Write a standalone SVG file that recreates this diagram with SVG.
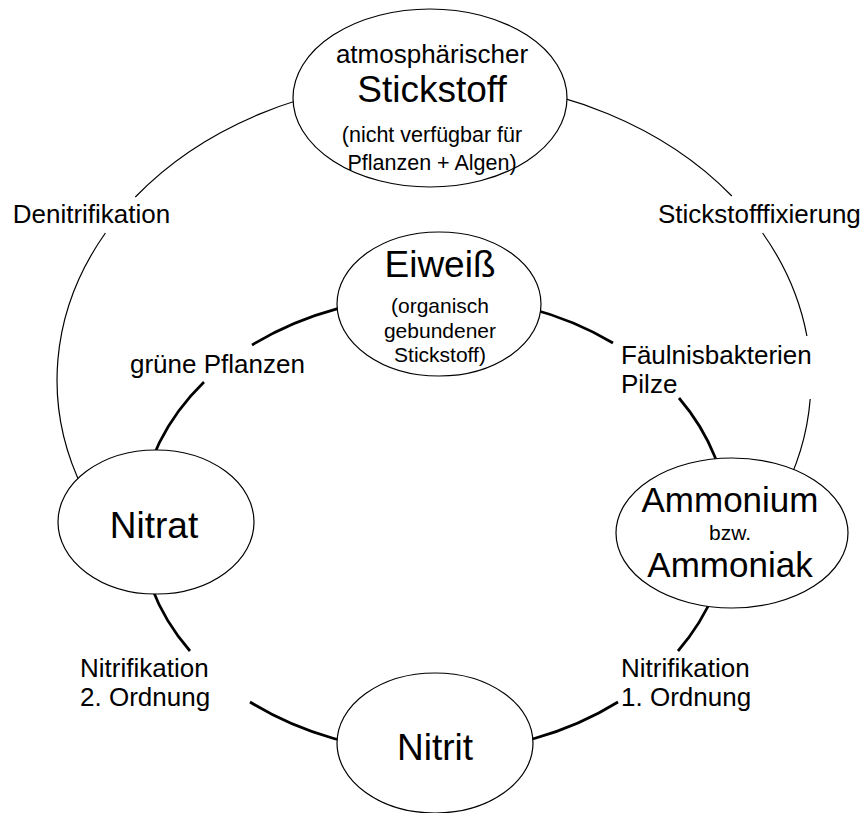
<svg xmlns="http://www.w3.org/2000/svg" width="868" height="813" viewBox="0 0 868 813">
<style>
.bg{fill:#fff}
.node{fill:#fff;stroke:#000;stroke-width:1.2}
.outer{fill:none;stroke:#000;stroke-width:1.2}
.inner{fill:none;stroke:#000;stroke-width:2.7}
text{font-family:"Liberation Sans",Arial,sans-serif;fill:#000}
.lab{font-size:26px}
.big{font-size:37px;text-anchor:middle}
.mid{font-size:26px;text-anchor:middle}
.sm{font-size:21px;text-anchor:middle}
</style>
<rect class="bg" x="0" y="0" width="868" height="813"/>
<g id="connectors">
<path class="outer" d="M83.3,490 A377,300 0 0 1 105.4,233"/>
<path class="outer" d="M135.3,197 A377,300 0 0 1 731.8,196"/>
<path class="outer" d="M762.6,233 A377,300 0 0 1 806.9,336"/>
<path class="outer" d="M810.2,399 A377,300 0 0 1 779.5,500"/>
<path class="inner" d="M434,296 A294,228 0 0 1 613,343"/>
<path class="inner" d="M679,398 A294,228 0 0 1 678,651"/>
<path class="inner" d="M618,702 A294,228 0 0 1 250,702"/>
<path class="inner" d="M190,651 A294,228 0 0 1 204,382"/>
<path class="inner" d="M252,345 A294,228 0 0 1 434,296"/>
</g>
<g id="labels">
<text class="lab" x="12.7" y="223">Denitrifikation</text>
<text class="lab" x="658" y="223">Stickstofffixierung</text>
<text class="lab" x="130" y="373">grüne Pflanzen</text>
<text class="lab" x="621" y="364">Fäulnisbakterien</text>
<text class="lab" x="621" y="393">Pilze</text>
<text class="lab" x="80" y="677">Nitrifikation</text>
<text class="lab" x="80" y="706">2. Ordnung</text>
<text class="lab" x="621" y="677">Nitrifikation</text>
<text class="lab" x="621" y="706">1. Ordnung</text>
</g>
<g id="stickstoff">
<ellipse class="node" cx="430" cy="98" rx="137" ry="89"/>
<text class="mid" x="432" y="63">atmosphärischer</text>
<text class="big" x="432" y="102">Stickstoff</text>
<text class="sm" x="432" y="142" style="font-size:21.5px">(nicht verfügbar für</text>
<text class="sm" x="432" y="170" style="font-size:21.5px">Pflanzen + Algen)</text>
</g>
<g id="eiweiss">
<ellipse class="node" cx="439" cy="304" rx="102" ry="72"/>
<text class="big" x="440" y="277">Eiweiß</text>
<text class="sm" x="440" y="313">(organisch</text>
<text class="sm" x="440" y="338">gebundener</text>
<text class="sm" x="440" y="362">Stickstoff)</text>
</g>
<g id="nitrat">
<ellipse class="node" cx="156" cy="522" rx="98" ry="72"/>
<text class="big" x="154" y="538">Nitrat</text>
</g>
<g id="ammonium">
<ellipse class="node" cx="732" cy="533" rx="116" ry="75"/>
<text class="big" x="730" y="512" style="font-size:35px">Ammonium</text>
<text class="sm" x="730" y="540">bzw.</text>
<text class="big" x="730" y="577" style="font-size:35px">Ammoniak</text>
</g>
<g id="nitrit">
<ellipse class="node" cx="435" cy="743" rx="98" ry="70"/>
<text class="big" x="435" y="760">Nitrit</text>
</g>
</svg>
